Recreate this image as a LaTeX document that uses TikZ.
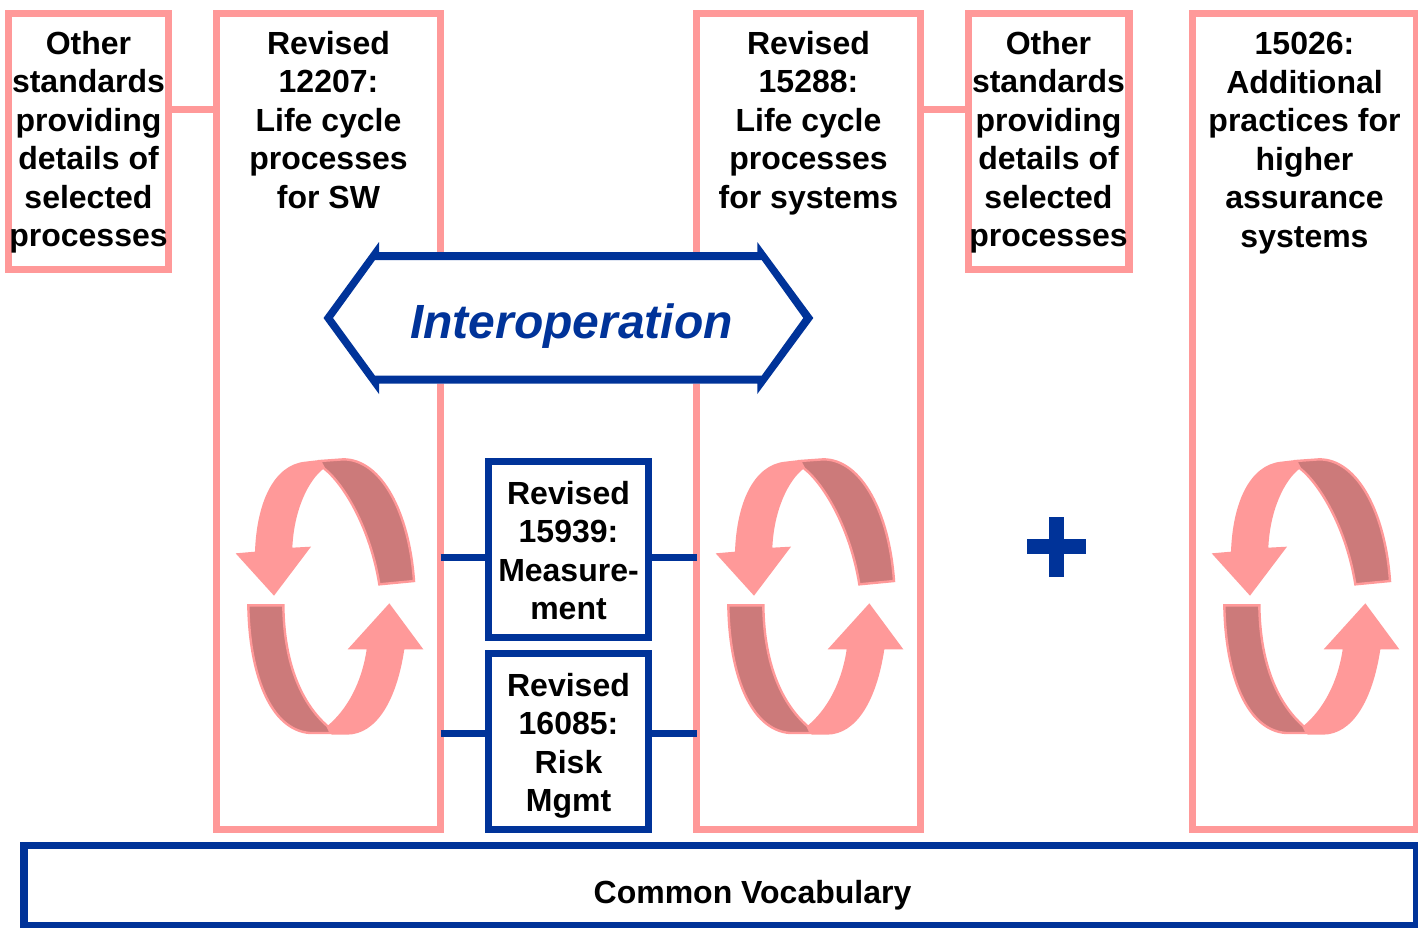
\documentclass[tikz,border=0pt]{standalone}
\usepackage{fontspec}
\setmainfont{Liberation Sans}
\definecolor{pinkc}{RGB}{255,153,153}
\definecolor{darkp}{RGB}{204,122,122}
\definecolor{bluec}{RGB}{0,51,153}
\newcommand{\cycleicon}[1]{%
\begin{scope}[shift={(#1,440)},scale=0.33333,line width=2.4pt,draw=pinkc,line join=miter]
\draw[fill=darkp] (300,63) -- (370,58) .. controls (485,58) and (568,220) .. (582,423) -- (478,433) .. controls (452,270) and (375,135) .. (312,85) -- cycle;
\draw[fill=pinkc,draw=none] (298,60) -- (255,65) .. controls (160,75) and (110,190) .. (105,335) -- (47,340) -- (162,467) -- (273,320) -- (217,323) .. controls (222,210) and (265,120) .. (312,85) -- cycle;
\draw[fill=darkp] (85,496) -- (190,496) .. controls (192,680) and (250,795) .. (322,858) -- (333,879) -- (270,879) .. controls (150,870) and (88,700) .. (85,496) -- cycle;
\draw[fill=pinkc,draw=none] (322,858) .. controls (380,810) and (425,730) .. (440,628) -- (383,628) -- (508,490) -- (610,628) -- (553,628) .. controls (530,780) and (470,884) .. (380,884) -- (335,884) -- cycle;
\end{scope}}
\tikzset{
 pinkbox/.style={draw=pinkc,line width=7.2pt,inner sep=0pt,outer sep=0pt,fill=white},
 bluebox/.style={draw=bluec,line width=7.2pt,inner sep=0pt,outer sep=0pt,fill=white},
 pinkline/.style={draw=pinkc,line width=7.2pt},
 blueline/.style={draw=bluec,line width=7.2pt},
 lab/.style={font=\fontsize{32}{38.5}\selectfont\bfseries,align=center,inner sep=0pt,anchor=north,text=black},
}
\begin{document}
\begin{tikzpicture}[x=1pt,y=-1pt]
\useasboundingbox (0,0) rectangle (1418,927);
\path[fill=white] (0,0) rectangle (1418,927);
% Tall pink boxes
\node[pinkbox,minimum width=224pt,minimum height=816.2pt] (b2) at (328.7,421.4) {};
\node[pinkbox,minimum width=224pt,minimum height=816.2pt] (b3) at (808.7,421.4) {};
\node[pinkbox,minimum width=224.2pt,minimum height=816.2pt] (b5) at (1304.6,421.4) {};
\node[pinkbox,minimum width=160.6pt,minimum height=256.2pt] (b1) at (88.5,141.4) {};
\node[pinkbox,minimum width=160.6pt,minimum height=256.2pt] (b4) at (1048.7,141.4) {};
\coordinate (ya) at (0,109.3);
\coordinate (ym) at (0,557.3);
\coordinate (yr) at (0,733.3);
\draw[pinkline] (b1.east |- ya) -- (b2.west |- ya);
\draw[pinkline] (b3.east |- ya) -- (b4.west |- ya);
% Texts
\node[lab] (t1) at (88.5,31) {Other\\standards\\providing\\details of\\selected\\processes};
\node[lab] (t2) at (328.5,31) {Revised\\12207:\\Life cycle\\processes\\for SW};
\node[lab] (t3) at (808.5,31) {Revised\\15288:\\Life cycle\\processes\\for systems};
\node[lab] (t4) at (1048.5,31) {Other\\standards\\providing\\details of\\selected\\processes};
\node[lab] (t5) at (1304.5,32) {15026:\\Additional\\practices for\\higher\\assurance\\systems};
% Cycle icons
\cycleicon{220}
\cycleicon{700}
\cycleicon{1196}
% Interoperation
\path[fill=white] (379,252) -- (757.3,252) -- (813.3,318) -- (757.3,383.5) -- (379,383.5) -- (323.5,318) -- cycle;
\path[fill=bluec,even odd rule]
 (379,242) -- (379,252) -- (757.3,252) -- (757.3,242) -- (813.3,318) -- (757.3,394) -- (757.3,383.5) -- (379,383.5) -- (379,394) -- (323.5,318) -- cycle
 (375,260) -- (761.7,260) -- (803.3,318) -- (761.7,375.7) -- (375,375.7) -- (333,318) -- cycle;
\node[font=\fontsize{48}{50}\selectfont\bfseries\itshape,text=bluec,inner sep=0pt] (io) at (571.5,326) {Interoperation};
% Blue boxes
\node[bluebox,minimum width=160pt,minimum height=176.4pt] (m) at (568.3,549.5) {};
\node[bluebox,minimum width=160pt,minimum height=176pt] (r) at (568.3,741.3) {};
\draw[blueline] (b2.east |- ym) -- (m.west |- ym);
\draw[blueline] (m.east |- ym) -- (b3.west |- ym);
\draw[blueline] (b2.east |- yr) -- (r.west |- yr);
\draw[blueline] (r.east |- yr) -- (b3.west |- yr);
\node[lab] (tm) at (568.5,481) {Revised\\15939:\\Measure-\\ment};
\node[lab] (tr) at (568.5,673) {Revised\\16085:\\Risk\\Mgmt};
% Plus
\path[fill=bluec] (1049,517.3) rectangle (1064,576.7);
\path[fill=bluec] (1027,539.3) rectangle (1086.3,554.3);
% Vocabulary
\node[bluebox,minimum width=1392.7pt,minimum height=80.2pt] (v) at (720.3,885.6) {};
\node[font=\fontsize{32}{38}\selectfont\bfseries,inner sep=0pt] (tv) at (752.5,895) {Common Vocabulary};
\end{tikzpicture}
\end{document}
